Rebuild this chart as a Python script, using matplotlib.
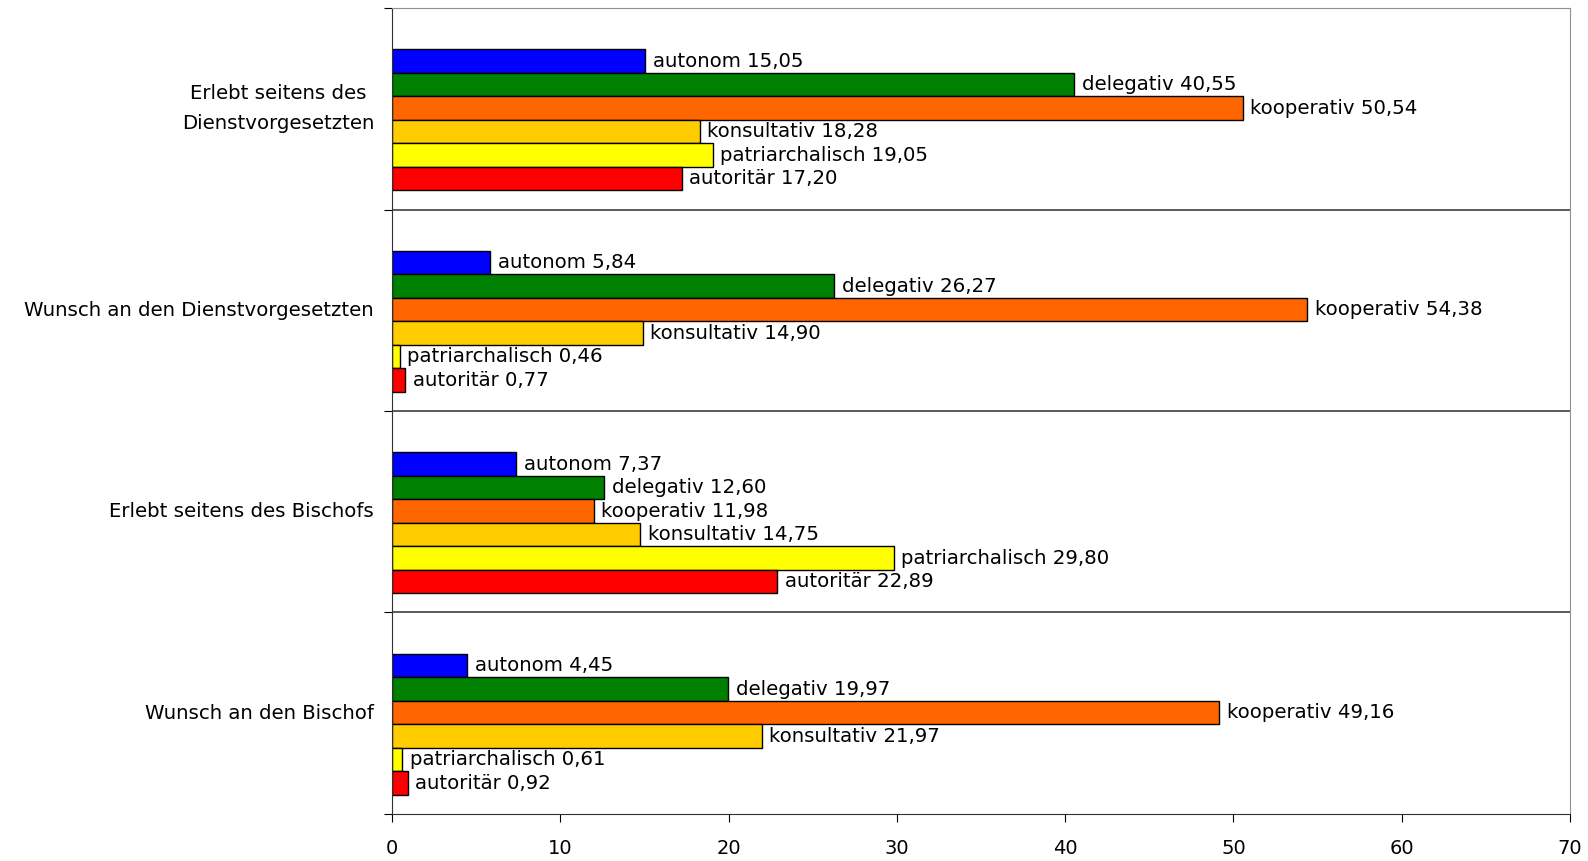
import numpy as np
import matplotlib.pyplot as plt

groups = ["Erlebt seitens des\nDienstvorgesetzten", "Wunsch an den Dienstvorgesetzten",
          "Erlebt seitens des Bischofs", "Wunsch an den Bischof"]
styles = ["autonom", "delegativ", "kooperativ", "konsultativ", "patriarchalisch", "autoritär"]
colors = ["#0000FF", "#008000", "#FF6600", "#FFCC00", "#FFFF00", "#FF0000"]

autonom = [15.05, 5.84, 7.37, 4.45]
delegativ = [40.55, 26.27, 12.60, 19.97]
kooperativ = [50.54, 54.38, 11.98, 49.16]
konsultativ = [18.28, 14.90, 14.75, 21.97]
patriarchalisch = [19.05, 0.46, 29.80, 0.61]
autoritaer = [17.20, 0.77, 22.89, 0.92]
series = [autonom, delegativ, kooperativ, konsultativ, patriarchalisch, autoritaer]

fig = plt.figure(figsize=(15.88, 8.61), dpi=100)
ax = fig.add_axes([0.2469, 0.0546, 0.9887 - 0.2469, 0.9907 - 0.0546])

n_groups = len(groups)
bar_h = 0.7 / 6
start = 0.095
for gi in range(n_groups):
    base = n_groups - 1 - gi  # top group first
    for si, (name, vals, col) in enumerate(zip(styles, series, colors)):
        y = base + start + (5 - si) * bar_h
        v = vals[gi]
        ax.barh(y, v, height=bar_h, align='edge', color=col, edgecolor='black', linewidth=1)
        ax.text(v + 0.45, y + bar_h / 2, f"{name} {v:.2f}".replace('.', ','),
                va='center', ha='left', fontsize=14.2, color='black')

for b in range(1, n_groups):
    ax.axhline(b, color='#404040', linewidth=1.2)

ax.set_xlim(0, 70)
ax.set_ylim(0, n_groups)
ax.set_xticks(np.arange(0, 71, 10))
ax.tick_params(axis='x', direction='out', length=6, labelsize=14, pad=12)
ax.set_yticks(np.arange(0, n_groups + 1))
ax.set_yticklabels([])
ax.tick_params(axis='y', which='major', direction='out', length=6)
ax.set_yticks([n_groups - 1 - gi + 0.5 for gi in range(n_groups)], minor=True)
ax.set_yticklabels(groups, minor=True, fontsize=14.2, multialignment='center',
                   linespacing=1.75, va='center')
ax.tick_params(axis='y', which='minor', length=0, pad=13)

for s in ['top', 'right']:
    ax.spines[s].set_color('#909090')
for s in ['left', 'bottom']:
    ax.spines[s].set_color('#303030')

fig.savefig("out.png", dpi=100)
